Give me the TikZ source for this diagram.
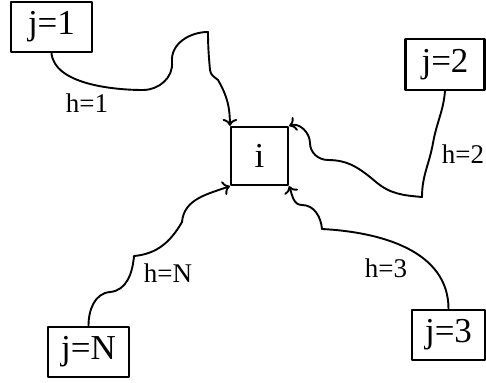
\documentclass[tikz,border=0pt]{standalone}
\usepackage{fontspec}
\setmainfont{Liberation Serif}
\usetikzlibrary{arrows.meta}
\begin{document}
\begin{tikzpicture}[x=1pt,y=1pt,line join=round,line width=1.9pt,>={To[scale=1.2]},
  cell/.style={draw,line width=2.2pt,inner sep=0pt,font=\fontsize{35}{40}\selectfont},
  hop/.style={inner sep=0pt,font=\fontsize{27}{30}\selectfont}]
\useasboundingbox (0,0) rectangle (486,-382);

\node[cell,minimum width=81,minimum height=50] (j1) at (51.5,-27) {j=1};
\node[cell,minimum width=79,minimum height=51] (j2) at (445,-64.5) {j=2};
\node[cell,minimum width=57,minimum height=58] (i) at (259.5,-156) {i};
\node[cell,minimum width=81,minimum height=50] (jN) at (88.5,-352) {j=N};
\node[cell,minimum width=73,minimum height=50] (j3) at (448.5,-335) {j=3};

\draw[->](j1.south) to[out=-85,in=180,looseness=0.8] (143,-90) to[out=0,in=-85] (172,-62)
  to[out=95,in=180] (208,-32) to[out=-90,in=95] (210,-70) to[out=-85,in=140] (218,-80)
  to[out=-60,in=90] (i.north west);
\draw[->](j2.south) to[out=-95,in=80] (433,-143) to[out=-100,in=90] (422,-197)
  to[out=175,in=-40] (376,-182) to[out=140,in=0] (328,-160) to[out=180,in=-90] (310,-143)
  to[out=90,in=20] (i.north east);
\draw[->](j3.north) to[out=90,in=-3] (322,-229) to[out=95,in=0] (302,-205)
  to[out=180,in=-70] (i.south east);
\draw[->](jN.north) to[out=90,in=185] (110,-292) to[out=5,in=-95] (134,-256)
  to[out=5,in=-120] (182,-222) to[out=85,in=200] (i.south west);

\node[hop] (h1) at (87,-103) {h=1};
\node[hop] (h2) at (463,-154) {h=2};
\node[hop] (h3) at (386,-268) {h=3};
\node[hop] (hN) at (168,-273) {h=N};
\end{tikzpicture}
\end{document}
